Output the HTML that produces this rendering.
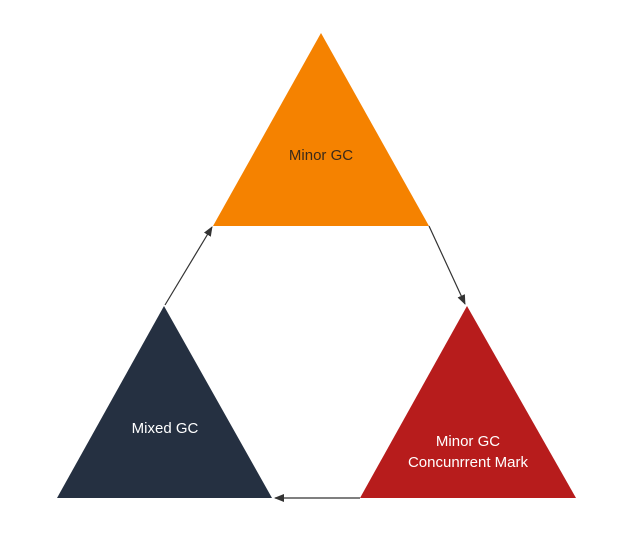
<!DOCTYPE html>
<html><head><meta charset="utf-8"><style>
html,body{margin:0;padding:0;background:#fff;}
svg{display:block}
text{font-family:"Liberation Sans",sans-serif;font-size:15px;text-anchor:middle}
</style></head><body>
<svg width="635" height="543" viewBox="0 0 635 543" xmlns="http://www.w3.org/2000/svg">
<defs><marker id="a" markerWidth="10" markerHeight="8" refX="9" refY="4" orient="auto" markerUnits="userSpaceOnUse"><path d="M0,0 L10,4 L0,8 z" fill="#333"/></marker></defs>
<polygon points="321,33 213,226 429,226" fill="#f58200"/>
<polygon points="164,306 57,498 272,498" fill="#253041"/>
<polygon points="467,306 360,498 576,498" fill="#b71c1c"/>
<line x1="429" y1="226" x2="465" y2="304" stroke="#333" stroke-width="1.2" marker-end="url(#a)"/>
<line x1="360" y1="498" x2="275" y2="498" stroke="#333" stroke-width="1.2" marker-end="url(#a)"/>
<line x1="165" y1="305" x2="212" y2="227" stroke="#333" stroke-width="1.2" marker-end="url(#a)"/>
<text x="321" y="160" fill="#3a2a1a">Minor GC</text>
<text x="165" y="433" fill="#fff">Mixed GC</text>
<text x="468" y="446" fill="#fff">Minor GC</text>
<text x="468" y="467" fill="#fff">Concunrrent Mark</text>
</svg>
</body></html>
